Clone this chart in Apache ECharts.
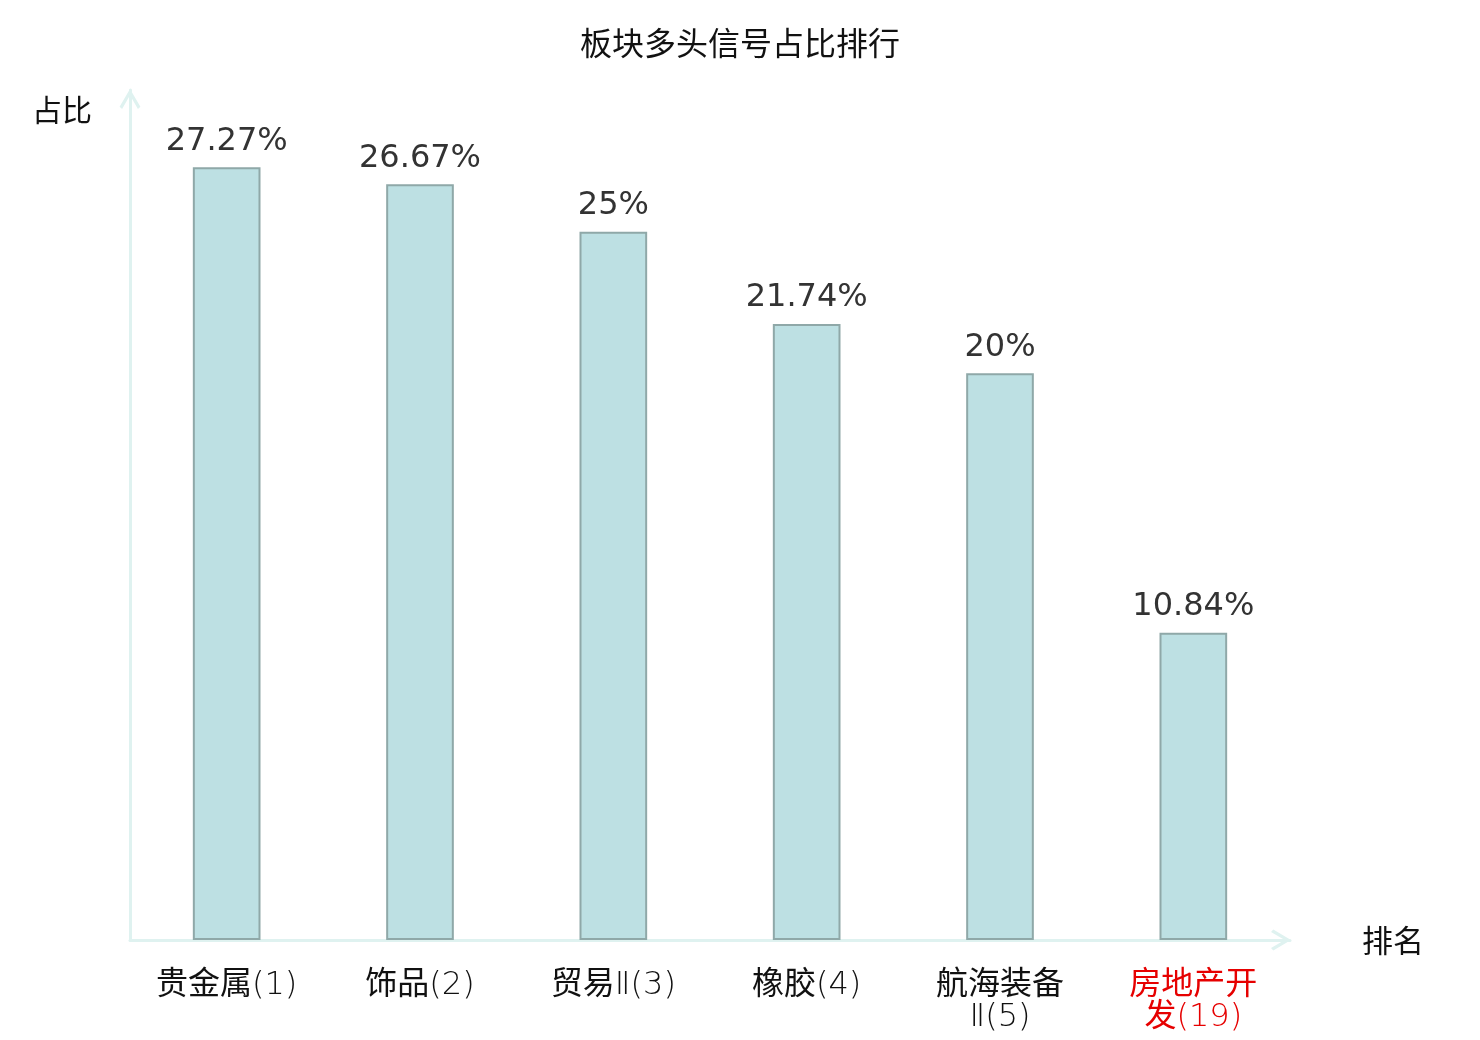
<!DOCTYPE html>
<html>
<head>
<meta charset="utf-8">
<script src="https://cdn.jsdelivr.net/npm/echarts@6/dist/echarts.min.js"></script>
<style>
  html, body { margin: 0; padding: 0; background: #fff; }
  #chart { width: 1480px; height: 1040px; }
</style>
</head>
<body>
<div id="chart"></div>
<script>
const sectors = ['贵金属(1)', '饰品(2)', '贸易Ⅱ(3)', '橡胶(4)', '航海装备Ⅱ(5)', '房地产开发(19)'];
const ratios = [27.27, 26.67, 25, 21.74, 20, 10.84];
const highlightIndex = 5;

const chart = echarts.init(document.getElementById('chart'));
const axisColor = '#dff2f0';
const cjk = '"Noto Sans CJK SC", sans-serif';
// open chevron, tip at top of the box
const chevron = 'path://M10 0 L20 17 L17.6 19.2 L10 6 L2.4 19.2 L0 17 Z';

const axisLine = {
  show: true,
  lineStyle: { color: axisColor, width: 3 },
  symbol: ['none', chevron],
  symbolSize: [22, 20],
  symbolOffset: [0, -9]
};

chart.setOption({
  animation: false,
  title: {
    text: '板块多头信号占比排行',
    left: 'center',
    top: 22,
    textStyle: { fontSize: 32, fontWeight: 'normal', color: '#111', fontFamily: cjk }
  },
  grid: { left: 130, right: 190, top: 90, bottom: 100 },
  xAxis: {
    type: 'category',
    data: sectors,
    name: '排名',
    nameGap: 72,
    nameTextStyle: { fontSize: 31, color: '#111', fontFamily: cjk, padding: [4, 0, 0, 0] },
    axisLine,
    axisTick: { show: false },
    axisLabel: {
      fontSize: 32,
      fontFamily: '"DejaVu Sans ExtraLight", "DejaVu Sans Light", "Noto Sans CJK SC", sans-serif',
      margin: 30,
      lineHeight: 32,
      width: 150,
      overflow: 'break',
      interval: 0,
      color: (v, i) => (i === highlightIndex ? '#e60000' : '#111')
    }
  },
  yAxis: {
    type: 'value',
    min: 0,
    max: 30,
    name: '占比',
    nameGap: -20,
    nameTextStyle: { fontSize: 30, color: '#111', fontFamily: cjk, align: 'right', verticalAlign: 'middle', padding: [0, 38, 0, 0] },
    axisLine,
    axisTick: { show: false },
    axisLabel: { show: false },
    splitLine: { show: false }
  },
  series: [{
    type: 'bar',
    data: ratios,
    barWidth: '35%',
    itemStyle: { color: '#bde0e3', borderColor: '#8fa8a8', borderWidth: 2 },
    label: {
      show: true,
      position: 'top',
      distance: 10,
      fontSize: 32,
      fontFamily: '"DejaVu Sans", sans-serif',
      color: '#333',
      formatter: (p) => p.value + '%'
    }
  }]
});
</script>
</body>
</html>
